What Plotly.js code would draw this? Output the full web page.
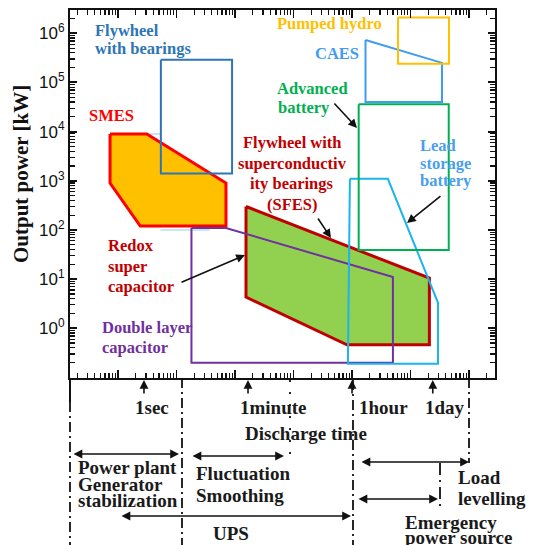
<!DOCTYPE html>
<html><head><meta charset="utf-8">
<script src="https://cdn.plot.ly/plotly-3.0.1.min.js"></script>
<style>html,body{margin:0;padding:0;background:#fff}#chart{width:535px;height:545px}</style>
</head><body><div id="chart"></div>
<script>
// x: discharge time [hours], y: output power [kW]
const smesX  = [7.3e-5, 3.1e-4, 7.0e-3, 7.0e-3, 2.4e-4, 7.3e-5];
const smesY  = [9000, 9000, 900, 120, 120, 900];
// faint outline partly hidden behind SMES (two visible pieces)
const faintX = [7.3e-5, 5.3e-4, null, 5.3e-4, 3.7e-3];
const faintY = [9000, 9000, null, 100, 100];
const flyX   = [5.4e-4, 8.9e-3, 8.9e-3, 5.4e-4];
const flyY   = [2.9e5, 2.9e5, 1.4e3, 1.4e3];
const sfesX  = [0.0154, 21, 21, 0.82, 0.0154];
const sfesY  = [300, 10.5, 0.46, 0.46, 4.3];
const dlcX   = [1.8e-3, 7.0e-3, 5.0, 5.0, 1.8e-3];
const dlcY   = [110, 110, 11, 0.2, 0.2];
const leadX  = [0.92, 4.1, 29.5, 29.5, 0.85];
const leadY  = [1100, 1100, 3.3, 0.19, 0.19];
const advX   = [1.3, 45, 45, 1.3];
const advY   = [3.6e4, 3.6e4, 39, 39];
const caesX  = [1.7, 34.5, 34.5, 1.7];
const caesY  = [7.3e5, 2.5e5, 4.0e4, 4.0e4];
const phX    = [6.1, 45.5, 45.5, 6.1];
const phY    = [2.1e6, 2.1e6, 2.4e5, 2.4e5];
const yTickVals = [1, 10, 100, 1e3, 1e4, 1e5, 1e6];
const yTickText = ['10<sup>0</sup>','10<sup>1</sup>','10<sup>2</sup>','10<sup>3</sup>','10<sup>4</sup>','10<sup>5</sup>','10<sup>6</sup>'];
const timeMarkLabels = ['1sec', '1minute', '1hour', '1day'];
const timeMarkHours  = [1/3600, 1/60, 1, 24];

const close = a => a.concat([a[0]]);
function poly(x, y, line, width, fill) {
  return {type:'scatter', mode:'lines', x:close(x), y:close(y),
    line:{color:line, width:width}, fill: fill ? 'toself' : 'none',
    fillcolor: fill || 'rgba(0,0,0,0)', hoverinfo:'skip', showlegend:false};
}
const traces = [
  {type:'scatter', mode:'lines', x:faintX, y:faintY, line:{color:'#B8DDF0', width:1.5}, connectgaps:false, hoverinfo:'skip', showlegend:false},
  poly(smesX, smesY, '#FF0000', 3, '#FFC000'),
  poly(flyX, flyY, '#2E75B6', 2, null),
  poly(sfesX, sfesY, '#C00000', 3, '#92D050'),
  poly(dlcX, dlcY, '#7030A0', 2, null),
  poly(leadX, leadY, '#1CB4EC', 2, null),
  poly(advX, advY, '#00B050', 2, null),
  poly(caesX, caesY, '#3F9CF2', 2, null),
  poly(phX, phY, '#FFC000', 2, null)
];

// minor log ticks (2..9 per decade)
const minorX = [], minorY = [];
for (let k = -6; k <= 3; k++) for (let m = 2; m <= 9; m++) minorX.push(m * Math.pow(10, k));
for (let k = -2; k <= 6; k++) for (let m = 2; m <= 9; m++) minorY.push(m * Math.pow(10, k));

// pixel -> paper helpers (plot area: x 70..495, y 10..378)
const PX = p => (p - 70) / 425;
const PY = p => (378 - p) / 368;

const SERIF = "'Liberation Serif', 'Times New Roman', serif";
const serif = (size, color) => ({family:SERIF, size:size, color:color, weight:700});
const ann = [];
function label(text, x, y, color, size, anchor) {
  ann.push({text:text, xref:'paper', yref:'paper', x:PX(x), y:PY(y), xanchor:anchor||'left', yanchor:'middle',
    showarrow:false, font:serif(size||16.5, color)});
}
function arrow(hx, hy, tx, ty, both) {
  ann.push({text:'', xref:'paper', yref:'paper', x:PX(hx), y:PY(hy), ax:tx-hx, ay:ty-hy,
    showarrow:true, arrowhead:2, arrowsize:1.1, arrowwidth:1.6, arrowcolor:'#111',
    arrowside: both ? 'end+start' : 'end', startarrowhead:2, startarrowsize:1.1, font:{size:1}});
}
// in-plot labels
label('Flywheel', 93, 31, '#2E75B6');
label('with bearings', 93, 48, '#2E75B6');
label('SMES', 87, 116, '#FF0000');
['Flywheel with','superconductiv','ity bearings','(SFES)'].forEach((t,i)=>label(t, 292, [142,163,183,204][i], '#C00000', 16.5, 'center'));
label('Redox', 106, 245, '#C00000');
label('super', 106, 266, '#C00000');
label('capacitor', 106, 286, '#C00000');
label('Double layer', 100, 327, '#7030A0');
label('capacitor', 100, 347, '#7030A0');
label('Pumped hydro', 275, 24, '#FFC000');
label('CAES', 313, 53, '#3F9CF2');
label('Advanced', 275, 88, '#00B050');
label('battery', 276, 108, '#00B050');
label('Lead', 418, 145, '#4A9EEE');
label('storage', 418, 163, '#4A9EEE');
label('battery', 418, 180, '#4A9EEE');
// pointer arrows
arrow(357, 128, 333, 102);
arrow(331, 238, 317, 217);
arrow(245, 255, 180, 283);
arrow(407, 223, 442, 195);
// time marks on the axis
const markLeft = [133, 238, 357, 423];
timeMarkHours.forEach((h, i) => {
  ann.push({text:'', xref:'x', yref:'paper', x:Math.log10(h), y:PY(380), ax:0, ay:15,
    showarrow:true, arrowhead:2, arrowsize:1.1, arrowwidth:1.6, arrowcolor:'#111', font:{size:1}});
  label(timeMarkLabels[i], markLeft[i], 407, '#1a1a1a', 19);
});
label('Discharge time', 243, 433, '#1a1a1a', 19);
// application ranges
label('Power plant', 76, 467, '#1a1a1a', 19);
label('Generator', 76, 484, '#1a1a1a', 19);
label('stabilization', 76, 500, '#1a1a1a', 19);
label('Fluctuation', 194, 473, '#1a1a1a', 19);
label('Smoothing', 194, 495, '#1a1a1a', 19);
label('UPS', 211, 533, '#1a1a1a', 19);
label('Load', 456, 477, '#1a1a1a', 19);
label('levelling', 456, 498, '#1a1a1a', 19);
label('Emergency', 403, 522, '#1a1a1a', 19);
label('power source', 403, 537, '#1a1a1a', 19);
arrow(179, 454, 72, 454, true);
arrow(284, 456, 191, 456, true);
arrow(469, 462, 360, 462, true);
arrow(438, 499, 357, 499, true);
arrow(351, 516, 120, 516, true);
// y title
ann.push({text:'Output power [kW]', xref:'paper', yref:'paper', x:PX(21), y:PY(174), xanchor:'center', yanchor:'middle',
  textangle:-90, showarrow:false, font:serif(21, '#111')});

const dd = '10px,4px,2px,4px';
const vline = (x, y0, y1, dash, w) => ({type:'line', xref:'paper', yref:'paper', x0:PX(x), x1:PX(x), y0:PY(y0), y1:PY(y1),
  line:{color:'#111', width:w||1.8, dash:dash||'solid'}});
const shapes = [
  vline(70, 378, 402, 'solid', 2),
  vline(70, 402, 545, dd),
  vline(182, 378, 545, dd),
  vline(353, 380, 545, dd),
  vline(469, 378, 463, dd),
  vline(290, 380, 458, '2px,10px', 1.8),
  vline(440, 463, 507, '12px,5px,2px,5px')
];

const layout = {
  width:535, height:545,
  margin:{l:70, r:40, t:10, b:167, pad:0},
  paper_bgcolor:'#fff', plot_bgcolor:'#fff',
  showlegend:false, hovermode:false,
  xaxis:{type:'log', range:[-4.821, 2.444], dtick:1, ticks:'inside', ticklen:8, tickwidth:1.5, tickcolor:'#111',
    showticklabels:false, showline:true, linewidth:2, linecolor:'#111', mirror:'ticks', showgrid:false, zeroline:false,
    minor:{tickmode:'array', tickvals:minorX, ticks:'inside', ticklen:5, tickwidth:1.2, tickcolor:'#111', showgrid:false}},
  yaxis:{type:'log', range:[-1.011, 6.474], tickmode:'array', tickvals:yTickVals, ticktext:yTickText,
    ticks:'inside', ticklen:7, tickwidth:2, tickcolor:'#111', showline:true, linewidth:2, linecolor:'#111',
    mirror:'ticks', showgrid:false, zeroline:false,
    tickfont:{family:"'Liberation Sans', Arial, sans-serif", size:17, color:'#111'},
    minor:{tickmode:'array', tickvals:minorY, ticks:'inside', ticklen:5, tickwidth:1.2, tickcolor:'#111', showgrid:false}},
  annotations:ann, shapes:shapes
};
Plotly.newPlot('chart', traces, layout, {staticPlot:true, displayModeBar:false});
</script></body></html>
